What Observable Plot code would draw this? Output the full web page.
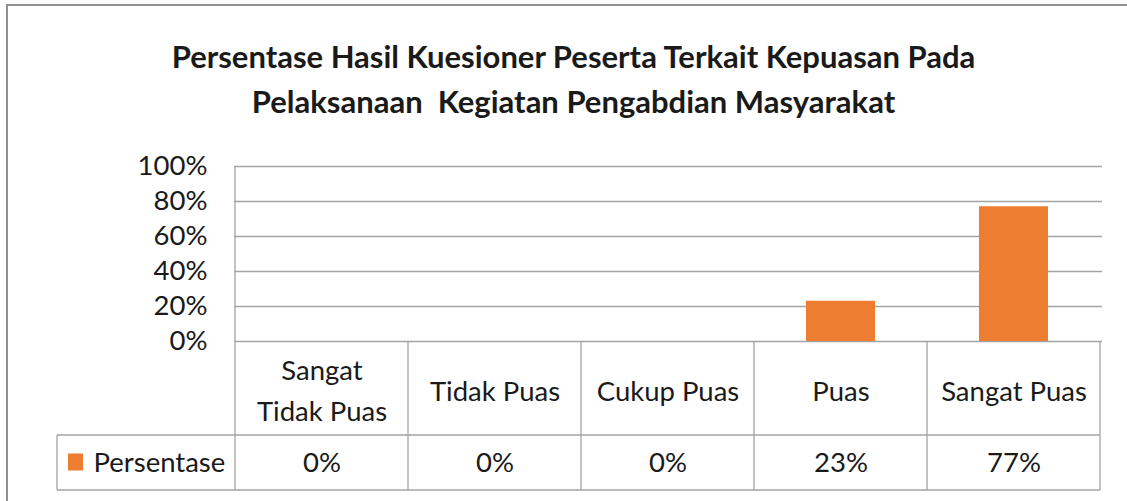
<!DOCTYPE html>
<html><head><meta charset="utf-8">
<script src="https://cdn.jsdelivr.net/npm/d3@7"></script>
<script src="https://cdn.jsdelivr.net/npm/@observablehq/plot@0.6"></script>
<style>
body{margin:0;background:#fff;}
#wrap{position:relative;width:1127px;height:501px;overflow:hidden;font-family:Lato,sans-serif;background:#fff;}
#border{position:absolute;left:6px;top:4px;right:-10px;bottom:-10px;border-left:2px solid #909090;border-top:2px solid #909090;}
#title{position:absolute;left:10px;width:1127px;top:34px;text-align:center;font-weight:bold;font-size:31px;line-height:45px;color:#1a1a1a;}
#chart{position:absolute;left:0;top:130px;}
</style></head>
<body><div id="wrap"><div id="border"></div><div id="title">Persentase Hasil Kuesioner Peserta Terkait Kepuasan Pada<br>Pelaksanaan&nbsp; Kegiatan Pengabdian Masyarakat</div><div id="chart"></div></div>
<script>
const categories = ["Sangat Tidak Puas", "Tidak Puas", "Cukup Puas", "Puas", "Sangat Puas"];
const categoryLabels = ["Sangat\nTidak Puas", "Tidak Puas", "Cukup Puas", "Puas", "Sangat Puas"];
const values = [0, 0, 0, 0.23, 0.77];
const valueLabels = ["0%", "0%", "0%", "23%", "77%"];
const seriesName = "Persentase";
const yTicks = [0, 0.2, 0.4, 0.6, 0.8, 1];

const data = categories.map((c, i) => ({category: c, label: categoryLabels[i], value: values[i], valueLabel: valueLabels[i]}));
const orange = "#ED7D31";
const lineColor = "#a3a3a3";
const FS = 27.5;

function tableMark(index, scales, vals, dims) {
  const x = scales.x;
  const bw = typeof x.bandwidth === "function" ? x.bandwidth() : x.bandwidth;
  const step = typeof x.step === "function" ? x.step() : x.step;
  const top = dims.marginTop;
  const fb = dims.height - dims.marginBottom;
  const r1 = fb + 94, r2 = fb + 149;
  const legendLeft = 57;
  const g = d3.create("svg:g").attr("fill", "none").attr("stroke", lineColor).attr("stroke-width", 1.3);
  const edges = categories.map(c => x(c) - (step - bw) / 2);
  edges.push(edges[edges.length - 1] + step);
  g.append("line").attr("x1", edges[0]).attr("x2", edges[0]).attr("y1", top).attr("y2", r2);
  edges.slice(1).forEach(e => g.append("line").attr("x1", e).attr("x2", e).attr("y1", fb).attr("y2", r2));
  g.append("line").attr("x1", legendLeft).attr("x2", edges[edges.length - 1]).attr("y1", r1).attr("y2", r1);
  g.append("line").attr("x1", legendLeft).attr("x2", edges[edges.length - 1]).attr("y1", r2).attr("y2", r2);
  g.append("line").attr("x1", legendLeft).attr("x2", legendLeft).attr("y1", r1).attr("y2", r2);
  g.append("rect").attr("x", 68).attr("y", (r1 + r2) / 2 - 9).attr("width", 15).attr("height", 17).attr("fill", orange).attr("stroke", "none");
  return g.node();
}

const plot = Plot.plot({
  width: 1127,
  height: 371,
  marginLeft: 234,
  marginRight: 25,
  marginTop: 36,
  marginBottom: 160,
  style: {fontFamily: "Lato, sans-serif", fontSize: FS + "px", color: "#1a1a1a", background: "transparent", overflow: "visible"},
  x: {type: "band", domain: categories, paddingInner: 0.6, paddingOuter: 0.3, axis: null},
  y: {domain: [0, 1]},
  marks: [
    Plot.ruleY(yTicks, {stroke: lineColor, strokeWidth: 1.3, strokeOpacity: 1}),
    Plot.barY(data, {x: "category", y: "value", fill: orange}),
    Plot.axisY({ticks: yTicks, tickFormat: d3.format(".0%"), tickSize: 0, tickPadding: 27, label: null, fontSize: FS}),
    tableMark,
    Plot.text(data, {x: "category", text: "label", frameAnchor: "bottom", lineAnchor: "middle", dy: 46, lineHeight: 1.48, fontSize: FS}),
    Plot.text(data, {x: "category", text: "valueLabel", frameAnchor: "bottom", lineAnchor: "middle", dy: 122, fontSize: FS}),
    Plot.text([seriesName], {frameAnchor: "bottom-left", lineAnchor: "middle", dx: -141, dy: 122, textAnchor: "start", fontSize: FS})
  ]
});
document.getElementById("chart").appendChild(plot);
</script>
</body></html>
